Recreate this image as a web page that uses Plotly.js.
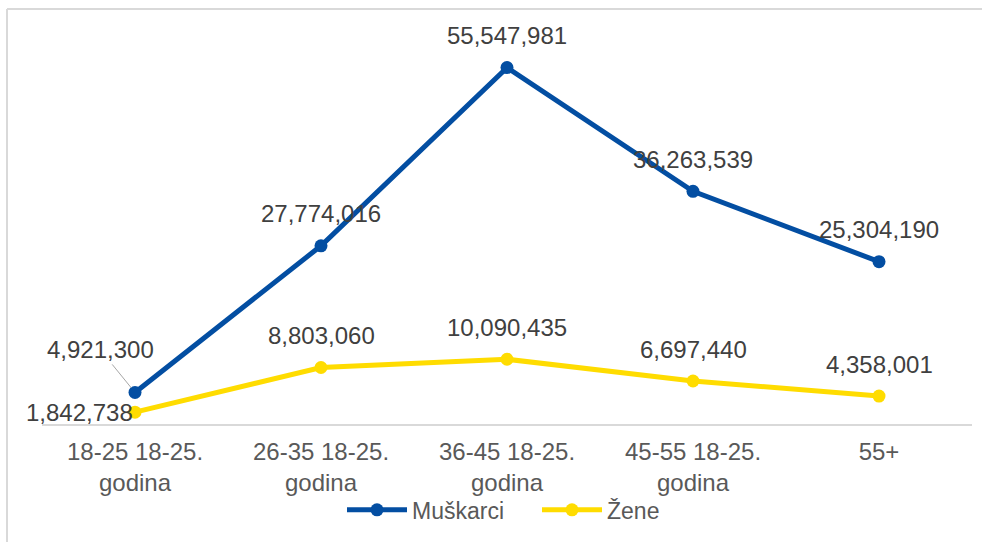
<!DOCTYPE html>
<html>
<head>
<meta charset="utf-8">
<script src="https://cdn.plot.ly/plotly-3.0.1.min.js"></script>
<style>html,body{margin:0;padding:0;background:#fff;}#chart{width:982px;height:542px;}</style>
</head>
<body>
<div id="chart"></div>
<script>
const categories = ["18-25 18-25.<br>godina", "26-35 18-25.<br>godina", "36-45 18-25.<br>godina", "45-55 18-25.<br>godina", "55+"];
const muskarci = [4921300, 27774016, 55547981, 36263539, 25304190];
const zene = [1842738, 8803060, 10090435, 6697440, 4358001];
const seriesNames = ["Muškarci", "Žene"];
const seriesColors = ["#034EA2", "#FFDC00"];

const xs = categories.map((c, i) => i);
const fmt = v => v.toLocaleString('en-US');
const font = "'Liberation Sans', Arial, sans-serif";

const traces = [muskarci, zene].map((vals, k) => ({
  type: 'scatter', mode: 'lines+markers', name: seriesNames[k],
  x: xs, y: vals,
  line: {color: seriesColors[k], width: 5},
  marker: {color: seriesColors[k], size: 13},
  cliponaxis: false, hoverinfo: 'skip'
}));

const labelFont = {family: font, size: 24, color: '#404040'};
const annotations = [];
muskarci.forEach((v, i) => {
  if (i === 0) {
    annotations.push({x: i, y: v, xref: 'x', yref: 'y', text: fmt(v), showarrow: true,
      arrowhead: 0, arrowwidth: 1, arrowcolor: '#a6a6a6', ax: -35, ay: -43, standoff: 6,
      font: labelFont});
  } else {
    annotations.push({x: i, y: v, xref: 'x', yref: 'y', text: fmt(v), showarrow: false,
      yanchor: 'middle', yshift: 32, font: labelFont});
  }
});
zene.forEach((v, i) => {
  if (i === 0) {
    annotations.push({x: i, y: v, xref: 'x', yref: 'y', text: fmt(v), showarrow: false,
      xanchor: 'right', yanchor: 'middle', xshift: 0, font: labelFont});
  } else {
    annotations.push({x: i, y: v, xref: 'x', yref: 'y', text: fmt(v), showarrow: false,
      yanchor: 'middle', yshift: 32, font: labelFont});
  }
});

const layout = {
  width: 982, height: 542,
  margin: {l: 42, r: 10, t: 39, b: 118},
  paper_bgcolor: '#ffffff', plot_bgcolor: '#ffffff',
  font: {family: font, color: '#595959', size: 24},
  xaxis: {
    range: [-0.5, 4.5], tickmode: 'array', tickvals: xs, ticktext: categories,
    showgrid: false, zeroline: false, showline: true, linecolor: '#d9d9d9', linewidth: 2,
    ticks: 'outside', ticklen: 5, tickcolor: 'rgba(0,0,0,0)',
    tickfont: {family: font, size: 24, color: '#595959'}, fixedrange: true
  },
  yaxis: {range: [0, 60000000], visible: false, showgrid: false, zeroline: false, fixedrange: true},
  showlegend: true,
  legend: {orientation: 'h', x: (342 - 42) / 930, xanchor: 'left', y: -0.223, yanchor: 'middle',
    bgcolor: 'rgba(0,0,0,0)',
    font: {family: font, size: 23, color: '#595959'}, itemwidth: 60,
    entrywidth: 120, entrywidthmode: 'pixels'},
  annotations: annotations,
  shapes: [
    {type: 'line', xref: 'paper', yref: 'paper', x0: -35/930, x1: 1 + 10/930, y0: 1 + 30/385, y1: 1 + 30/385, line: {color: '#d9d9d9', width: 2}},
    {type: 'line', xref: 'paper', yref: 'paper', x0: -35/930, x1: -35/930, y0: 1 + 30/385, y1: -0.4, line: {color: '#d9d9d9', width: 2}}
  ]
};

Plotly.newPlot('chart', traces, layout, {displayModeBar: false, staticPlot: true});
</script>
</body>
</html>
